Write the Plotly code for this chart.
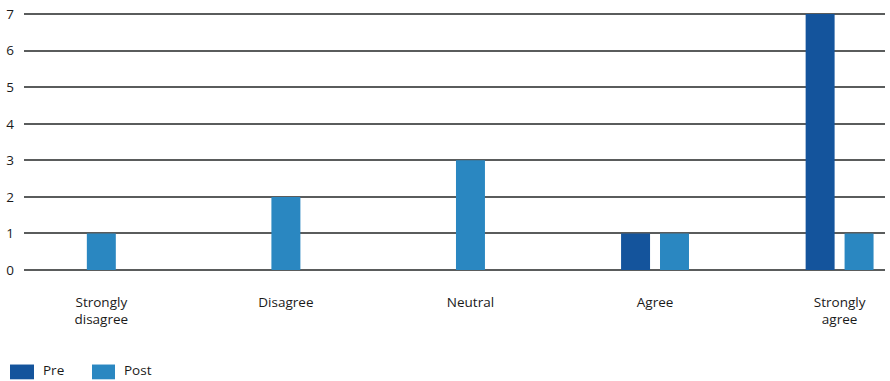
import plotly.graph_objects as go

categories = ["Strongly<br>disagree", "Disagree", "Neutral", "Agree", "Strongly<br>agree"]
pre_values = [0, 0, 0, 1, 7]
post_values = [1, 2, 3, 1, 1]
y_ticks = [0, 1, 2, 3, 4, 5, 6, 7]

PRE_COLOR = "#14549c"
POST_COLOR = "#2a87c1"
GRID = "#5a5c5c"
TXT = "#1a1a1a"
FONT = "Open Sans"
FS = 13.5

W, H = 890, 381
ML, MR, MT, MB = 24, 5, 9, 111

bw = 0.157
gap = 0.054
pre_off, post_off = [], []
for p, q in zip(pre_values, post_values):
    if p > 0 and q > 0:
        pre_off.append(-(bw + gap / 2))
        post_off.append(gap / 2)
    else:
        pre_off.append(-bw / 2)
        post_off.append(-bw / 2)

fig = go.Figure()
fig.add_trace(go.Bar(x=categories, y=pre_values, name="Pre", marker_color=PRE_COLOR,
                     width=bw, offset=pre_off, marker_line_width=0, showlegend=False))
fig.add_trace(go.Bar(x=categories, y=post_values, name="Post", marker_color=POST_COLOR,
                     width=bw, offset=post_off, marker_line_width=0, showlegend=False))

pw = W - ML - MR
ph = H - MT - MB


def px(x):
    return (x - ML) / pw


def py(y):
    return (H - MB - y) / ph


legend_items = [("Pre", PRE_COLOR, 10, 34, 41), ("Post", POST_COLOR, 92, 115, 122)]
shapes, annos = [], []
for name, col, x0, x1, tx in legend_items:
    shapes.append(dict(type="rect", xref="paper", yref="paper", x0=px(x0), x1=px(x1),
                       y0=py(366), y1=py(381), fillcolor=col, line_width=0))
    annos.append(dict(text=name, xref="paper", yref="paper", x=px(tx), y=py(372),
                      xanchor="left", yanchor="middle", showarrow=False,
                      font=dict(family=FONT, size=FS, color=TXT)))

fig.update_layout(
    width=W, height=H,
    margin=dict(l=ML, r=MR, t=MT, b=MB, pad=0),
    paper_bgcolor="white", plot_bgcolor="white",
    barmode="overlay",
    font=dict(family=FONT, size=FS, color=TXT),
    shapes=shapes, annotations=annos,
    xaxis=dict(type="category", range=[-0.419, 4.246], showgrid=False, showline=False,
               ticks="", ticklabelstandoff=22, tickfont=dict(family=FONT, size=FS, color=TXT)),
    yaxis=dict(range=[0, 7.03], tickvals=y_ticks, showgrid=True, gridcolor=GRID, gridwidth=2,
               zeroline=True, zerolinecolor=GRID, zerolinewidth=2, showline=False,
               ticks="", ticklabelstandoff=9, tickfont=dict(family=FONT, size=FS, color=TXT)),
)

fig.write_html("out.html")
